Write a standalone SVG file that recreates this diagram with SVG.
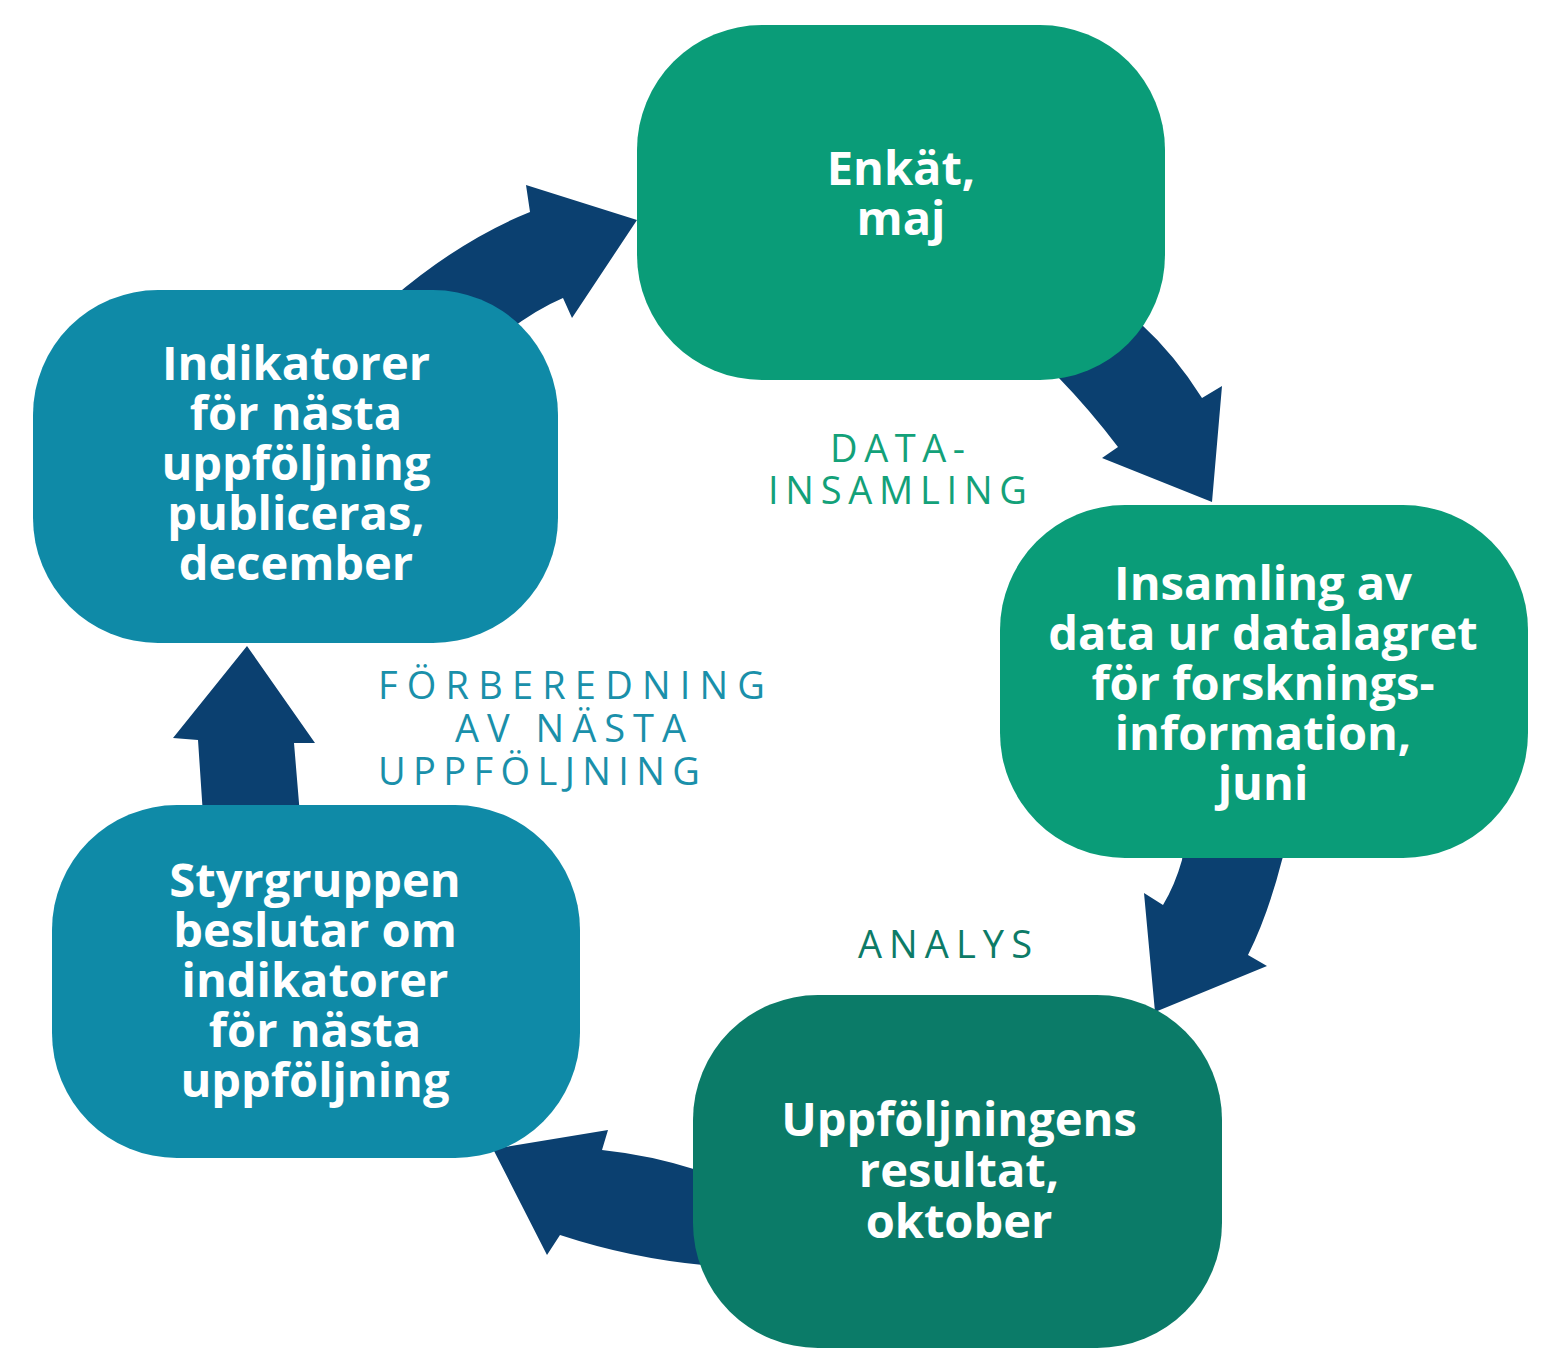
<svg xmlns="http://www.w3.org/2000/svg" width="1549" height="1372" viewBox="0 0 1549 1372">
<style>
.node-text{font-family:"Open Sans","Liberation Sans",sans-serif;font-weight:700;font-size:47px;fill:#ffffff;text-anchor:middle}
.label{font-family:"Open Sans","Liberation Sans",sans-serif;font-weight:400;font-size:38px}
.arrow{fill:#0b4070}
.green{fill:#0a9c78}
.dgreen{fill:#0b7b68}
.teal{fill:#0f8aa7}
</style>
<rect width="1549" height="1372" fill="#ffffff"/>
<g id="connectors">
<path class="arrow" d="M 390 300 Q 460 240 530 212 L 526 185 L 637 220 L 572 318 L 563 298 Q 530 312 490 345 Z"/>
<path class="arrow" d="M 1130 300 L 1140 323 Q 1175 355 1202 398 L 1222 386 L 1212 502 L 1102 458 L 1118 447 Q 1090 410 1058 377 L 1050 360 Z"/>
<path class="arrow" d="M 1185 835 L 1290 835 L 1282 860 Q 1268 915 1248 955 L 1267 966 L 1155 1012 L 1144 893 L 1163 905 Q 1175 885 1182 860 Z"/>
<path class="arrow" d="M 730 1172 L 697 1170 Q 650 1155 602 1150 L 608 1130 L 493 1149 L 547 1255 L 560 1235 Q 630 1258 703 1265 L 730 1265 Z"/>
<path class="arrow" d="M 247 646 L 315 743 L 294 743 L 300 815 L 203 815 L 198 740 L 173 738 Z"/>
</g>
<g id="node-enkat">
<rect class="green" x="637" y="25" width="528" height="355" rx="125" ry="125"/>
<text class="node-text" x="901" y="185">Enkät,</text>
<text class="node-text" x="901" y="235">maj</text>
</g>
<g id="node-insamling">
<rect class="green" x="1000" y="505" width="528" height="353" rx="125" ry="125"/>
<text class="node-text" x="1263" y="600">Insamling av</text>
<text class="node-text" x="1263" y="650">data ur datalagret</text>
<text class="node-text" x="1263" y="700">för forsknings-</text>
<text class="node-text" x="1263" y="750">information,</text>
<text class="node-text" x="1263" y="800">juni</text>
</g>
<g id="node-resultat">
<rect class="dgreen" x="693" y="995" width="529" height="353" rx="125" ry="125"/>
<text class="node-text" x="959" y="1136">Uppföljningens</text>
<text class="node-text" x="959" y="1187">resultat,</text>
<text class="node-text" x="959" y="1238">oktober</text>
</g>
<g id="node-styrgruppen">
<rect class="teal" x="52" y="805" width="528" height="353" rx="125" ry="125"/>
<text class="node-text" x="315" y="897">Styrgruppen</text>
<text class="node-text" x="315" y="947">beslutar om</text>
<text class="node-text" x="315" y="997">indikatorer</text>
<text class="node-text" x="315" y="1047">för nästa</text>
<text class="node-text" x="315" y="1097">uppföljning</text>
</g>
<g id="node-indikatorer">
<rect class="teal" x="33" y="290" width="525" height="353" rx="125" ry="125"/>
<text class="node-text" x="296" y="380">Indikatorer</text>
<text class="node-text" x="296" y="430">för nästa</text>
<text class="node-text" x="296" y="480">uppföljning</text>
<text class="node-text" x="296" y="530">publiceras,</text>
<text class="node-text" x="296" y="580">december</text>
</g>
<g id="labels">
<text class="label" fill="#13a179" x="830" y="462" textLength="135" lengthAdjust="spacing">DATA-</text>
<text class="label" fill="#13a179" x="768" y="504" textLength="259" lengthAdjust="spacing">INSAMLING</text>
<text class="label" fill="#0d7b67" x="858" y="958" textLength="174" lengthAdjust="spacing">ANALYS</text>
<text class="label" fill="#1a90aa" x="378" y="699" textLength="387" lengthAdjust="spacing">FÖRBEREDNING</text>
<text class="label" fill="#1a90aa" x="455" y="742" textLength="231" lengthAdjust="spacing">AV NÄSTA</text>
<text class="label" fill="#1a90aa" x="378" y="785" textLength="322" lengthAdjust="spacing">UPPFÖLJNING</text>
</g>
</svg>
